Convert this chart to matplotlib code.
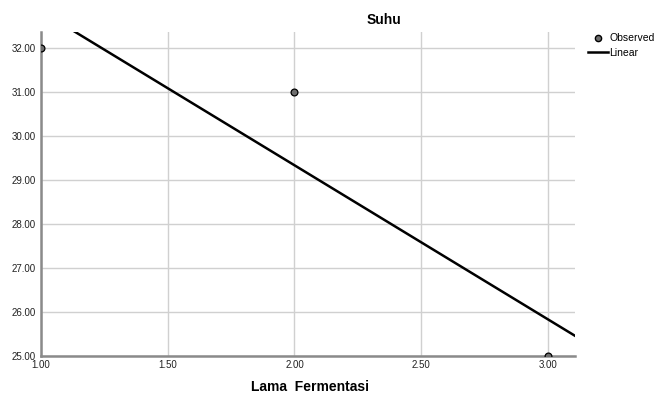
import matplotlib
matplotlib.use('Agg')
import matplotlib.pyplot as plt
from matplotlib.lines import Line2D

# Dados
lama = [1.0, 2.0, 3.0]
suhu = [32.0, 31.0, 25.0]
x_ticks = [1.0, 1.5, 2.0, 2.5, 3.0]
y_ticks = [25, 26, 27, 28, 29, 30, 31, 32]

# regresi linear
n = len(lama)
mx = sum(lama) / n
my = sum(suhu) / n
b = sum((x - mx) * (y - my) for x, y in zip(lama, suhu)) / sum((x - mx) ** 2 for x in lama)
a = my - b * mx

plt.rcParams['font.family'] = ['Liberation Sans', 'DejaVu Sans']

fig = plt.figure(figsize=(6.59, 3.94), dpi=100)
ax = fig.add_axes([41 / 659, 1 - 356 / 394, (575 - 41) / 659, (356 - 32) / 394])

xmin, xmax = 1.0, 3.107
ax.set_xlim(xmin, xmax)
ax.set_ylim(25, 32.36)

ax.plot([xmin, xmax], [a + b * xmin, a + b * xmax], color='black', lw=1.8, zorder=3)
ax.scatter(lama, suhu, s=24, facecolor='#6e6e6e', edgecolor='black', linewidth=0.9, zorder=4)

ax.set_xticks(x_ticks)
ax.set_xticklabels(['%.2f' % v for v in x_ticks])
ax.set_yticks(y_ticks)
ax.set_yticklabels(['%.2f' % v for v in y_ticks])
ax.tick_params(length=0, labelsize=7, colors='#222222', pad=4)
ax.tick_params(axis='x', pad=3)
ax.grid(True, color='#d0d0d0', lw=1)
ax.set_axisbelow(True)
for s in ['top', 'right']:
    ax.spines[s].set_visible(False)
for s in ['left', 'bottom']:
    ax.spines[s].set_color('#8a8a8a')
    ax.spines[s].set_linewidth(1.8)

fig.text(384 / 659, 1 - 20 / 394, 'Suhu', ha='center', va='center', fontsize=10, fontweight='bold')
fig.text(310 / 659, 1 - 387 / 394, 'Lama  Fermentasi', ha='center', va='center', fontsize=10, fontweight='bold')

handles = [Line2D([], [], marker='o', ls='none', markerfacecolor='#6e6e6e', markeredgecolor='black', markersize=4.5),
           Line2D([], [], color='black', lw=1.8)]
fig.legend(handles, ['Observed', 'Linear'], loc='upper left', bbox_to_anchor=(583 / 659, 1 - 28 / 394),
           frameon=False, fontsize=7.5, handlelength=1.9, handletextpad=0.15, labelspacing=0.45, borderpad=0)

fig.savefig('out.png', dpi=100)
